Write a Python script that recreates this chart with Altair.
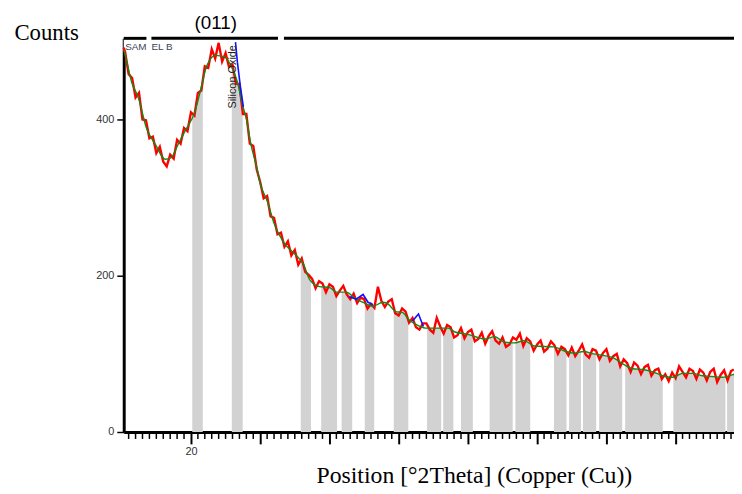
import altair as alt
import pandas as pd

# ---- data ----
green_pos = [10.29, 10.57, 11.43, 12.43, 13.57, 14.86, 16.29, 17.14, 18.14, 19.14,
             20.57, 21.43, 22.14, 22.71, 23.57, 24.86, 25.71, 26.71, 27.43, 28.0,
             28.57, 29.57, 30.0, 31.0, 32.0, 33.43, 34.86, 36.29, 37.14, 38.57,
             40.0, 41.0, 42.43, 43.86, 44.86, 46.29, 47.71, 48.57, 49.57, 50.57,
             51.43, 52.43, 53.86, 57.14, 58.14, 60.0, 62.43, 63.86, 65.29, 66.71,
             68.14, 69.57, 72.43, 73.86, 75.29, 76.71, 78.14, 79.57, 81.0, 82.43,
             83.86, 85.29, 86.71, 88.14, 89.57, 91.0, 92.43, 93.86, 95.29, 96.71,
             98.14, 98.43]
green_cnt = [489, 480, 448, 427, 389, 368, 349, 351, 368, 385,
             410, 439, 465, 476, 482, 480, 470, 448, 419, 401,
             372, 336, 318, 296, 267, 242, 229, 214, 195, 186,
             185, 179, 179, 170, 166, 161, 166, 163, 154, 153,
             144, 138, 133, 133, 128, 125, 119, 122, 115, 114,
             117, 110, 109, 104, 101, 103, 100, 98, 95, 87,
             81, 80, 77, 72, 70, 75, 75, 72, 71, 70,
             73, 74]

red_pos = [10.29, 10.5, 11.0, 11.5, 12.0, 12.5, 13.0, 13.5, 14.0, 14.5, 15.0,
           15.5, 16.0, 16.5, 17.0, 17.5, 18.0, 18.5, 19.0, 19.5, 20.0,
           20.5, 21.0, 21.5, 22.0, 22.5, 23.0, 23.5, 24.0, 24.5, 25.0,
           25.5, 26.0, 26.5, 27.0, 27.5, 28.0, 28.5, 29.0, 29.5, 30.0,
           30.5, 31.0, 31.5, 32.0, 32.5, 33.0, 33.5, 34.0, 34.5, 35.0,
           35.5, 36.0, 36.5, 37.0, 37.5, 38.0, 38.5, 39.0, 39.5, 40.0,
           40.5, 41.0, 41.5, 42.0, 42.5, 43.0, 43.5, 44.0, 44.5, 45.0,
           45.5, 46.0, 46.5, 47.0, 47.5, 48.0, 48.5, 49.0, 49.5, 50.0,
           50.5, 51.0, 51.5, 52.0, 52.5, 53.0, 53.5, 54.0, 54.5, 55.0,
           55.5, 56.0, 56.5, 57.0, 57.5, 58.0, 58.5, 59.0, 59.5, 60.0,
           60.5, 61.0, 61.5, 62.0, 62.5, 63.0, 63.5, 64.0, 64.5, 65.0,
           65.5, 66.0, 66.5, 67.0, 67.5, 68.0, 68.5, 69.0, 69.5, 70.0,
           70.5, 71.0, 71.5, 72.0, 72.5, 73.0, 73.5, 74.0, 74.5, 75.0,
           75.5, 76.0, 76.5, 77.0, 77.5, 78.0, 78.5, 79.0, 79.5, 80.0,
           80.5, 81.0, 81.5, 82.0, 82.5, 83.0, 83.5, 84.0, 84.5, 85.0,
           85.5, 86.0, 86.5, 87.0, 87.5, 88.0, 88.5, 89.0, 89.5, 90.0,
           90.5, 91.0, 91.5, 92.0, 92.5, 93.0, 93.5, 94.0, 94.5, 95.0,
           95.5, 96.0, 96.5, 97.0, 97.5, 98.0, 98.4]
red_cnt = [492, 486, 458, 453, 428, 434, 400, 399, 376, 378, 357,
           365, 346, 340, 355, 350, 374, 369, 389, 385, 409,
           405, 434, 437, 468, 466, 490, 478, 498, 474, 485,
           467, 470, 446, 445, 407, 407, 369, 366, 336, 320,
           299, 302, 276, 274, 253, 255, 237, 244, 226, 233,
           214, 222, 205, 201, 196, 184, 193, 190, 179, 189,
           186, 174, 181, 187, 176, 170, 177, 165, 172, 170,
           158, 164, 159, 186, 168, 160, 167, 170, 152, 149,
           158, 154, 140, 146, 134, 131, 139, 139, 131, 127,
           146, 135, 126, 137, 134, 121, 124, 133, 120, 128,
           131, 116, 119, 127, 113, 123, 129, 117, 113, 121,
           109, 112, 121, 118, 126, 110, 120, 116, 104, 112,
           117, 103, 107, 116, 111, 100, 109, 106, 98, 108,
           97, 104, 112, 99, 95, 106, 104, 93, 101, 106,
           91, 97, 100, 84, 93, 88, 77, 89, 85, 74,
           83, 86, 72, 79, 81, 68, 74, 65, 76, 69,
           84, 77, 70, 81, 78, 68, 80, 76, 66, 77,
           81, 64, 73, 79, 66, 78, 80]

blue_group = ["a", "a", "a", "a", "a", "b", "b", "b", "c", "c", "c", "c"]
blue_pos = [42.86, 43.86, 44.86, 45.57, 46.29, 52.0, 52.86, 53.57, 26.43, 26.71, 27.14, 27.57]
blue_cnt = [173, 170, 176, 166, 163, 142, 151, 135, 499, 473, 442, 416]

band_start = [20.19, 25.9, 35.86, 38.81, 41.76, 45.1, 49.29, 54.1, 56.43, 59.0,
              63.14, 66.86, 72.43, 74.61, 76.61, 78.96, 82.71, 89.67, 97.43]
band_end = [21.71, 27.47, 37.33, 41.1, 43.29, 46.47, 51.39, 56.14, 57.9, 60.71,
            66.47, 69.0, 74.24, 76.33, 78.53, 82.29, 88.14, 97.19, 98.43]

frame_start = [10.29, 14.29, 33.43]
frame_end = [13.57, 32.57, 98.43]

major_ticks = [20, 30, 40, 50, 60, 70, 80, 90]
minor_ticks = [v for v in range(11, 99) if v % 10 != 0]

X_MIN, X_MAX = 10.29, 98.43
Y_MAX = 503.8
W, H = 617, 398

xs = alt.Scale(domain=[X_MIN, X_MAX], nice=False, zero=False)
ys = alt.Scale(domain=[0, Y_MAX], nice=False, zero=True)

green_df = pd.DataFrame({"pos": green_pos, "cnt": green_cnt})
red_df = pd.DataFrame({"pos": red_pos, "cnt": red_cnt})
blue_df = pd.DataFrame({"g": blue_group, "pos": blue_pos, "cnt": blue_cnt})
band_df = pd.DataFrame({"s": band_start, "e": band_end})
frame_df = pd.DataFrame({"s": frame_start, "e": frame_end})
minor_df = pd.DataFrame({"pos": minor_ticks})

x_axis = alt.Axis(
    values=major_ticks, labelExpr="datum.value == 20 ? '20' : ''",
    tickSize=12, tickWidth=2, tickColor="black",
    domainWidth=3, domainColor="black",
    labelFont="Liberation Sans", labelFontSize=11, labelColor="#333333",
    labelPadding=2, grid=False,
    title="Position [°2Theta] (Copper (Cu))",
    titleFont="Liberation Serif", titleFontSize=24, titleFontWeight="normal",
    titleColor="black", titleX=354, titleY=51, titleAlign="center",
    titleBaseline="alphabetic",
)
y_axis = alt.Axis(
    values=[0, 200, 400], tickSize=7, tickWidth=1.5, tickColor="black",
    domainWidth=3, domainColor="black",
    labelFont="Liberation Sans", labelFontSize=11, labelColor="#333333",
    labelPadding=3, grid=False,
    title="Counts", titleAngle=0, titleX=-111, titleY=1, titleAlign="left",
    titleBaseline="alphabetic", titleFont="Liberation Serif", titleFontSize=23,
    titleFontWeight="normal", titleColor="black",
)

bands = alt.Chart(band_df).mark_rect(color="#d2d2d2").encode(
    x=alt.X("s:Q", scale=xs, axis=x_axis),
    x2="e:Q",
    y=alt.value(0),
    y2=alt.value(H),
)

mask = alt.Chart(green_df).mark_area(color="white", opacity=1,
                                     interpolate="monotone").encode(
    x=alt.X("pos:Q", scale=xs),
    y=alt.Y("cnt:Q", scale=ys, axis=y_axis),
    y2=alt.datum(Y_MAX),
)

red = alt.Chart(red_df).mark_line(color="#ff0000", strokeWidth=2.4).encode(
    x=alt.X("pos:Q", scale=xs),
    y=alt.Y("cnt:Q", scale=ys),
)

green = alt.Chart(green_df).mark_line(color="#138a13", strokeWidth=1.4,
                                      interpolate="monotone").encode(
    x=alt.X("pos:Q", scale=xs),
    y=alt.Y("cnt:Q", scale=ys),
)

blue = alt.Chart(blue_df).mark_line(color="#1010ff", strokeWidth=1.6).encode(
    x=alt.X("pos:Q", scale=xs),
    y=alt.Y("cnt:Q", scale=ys),
    detail="g:N",
)

frame = alt.Chart(frame_df).mark_rule(color="black", strokeWidth=3).encode(
    x=alt.X("s:Q", scale=xs),
    x2="e:Q",
    y=alt.value(0),
)

minor = alt.Chart(minor_df).mark_rule(color="black", strokeWidth=1.5).encode(
    x=alt.X("pos:Q", scale=xs),
    y=alt.value(H + 1),
    y2=alt.value(H + 7),
)

peak_lbl = alt.Chart(pd.DataFrame({"pos": [23.57], "t": ["(011)"]})).mark_text(
    font="Liberation Sans", fontSize=19, color="black", baseline="alphabetic",
    align="center",
).encode(x=alt.X("pos:Q", scale=xs), y=alt.value(-9), text="t:N")

sample_lbl = alt.Chart(pd.DataFrame({"pos": [10.5, 14.29], "t": ["SAM", "EL B"]})).mark_text(
    font="Liberation Sans", fontSize=10, color="#3a4458", baseline="middle",
    align="left",
).encode(x=alt.X("pos:Q", scale=xs), y=alt.value(9), text="t:N")

si_lbl = alt.Chart(pd.DataFrame({"pos": [26.14], "t": ["Silicon Oxide"]})).mark_text(
    font="Liberation Sans", fontSize=11, color="#222222", baseline="middle",
    align="left", angle=270,
).encode(x=alt.X("pos:Q", scale=xs), y=alt.value(71), text="t:N")

chart = alt.layer(
    bands, mask, red, green, blue, frame, minor, peak_lbl, sample_lbl, si_lbl
).properties(
    width=W, height=H,
    autosize=alt.AutoSizeParams(type="none"),
    padding={"left": 117, "top": 28, "right": 0, "bottom": 60},
).configure_view(stroke=None)

chart.save("out.html", embed_options={"renderer": "svg", "actions": False})
